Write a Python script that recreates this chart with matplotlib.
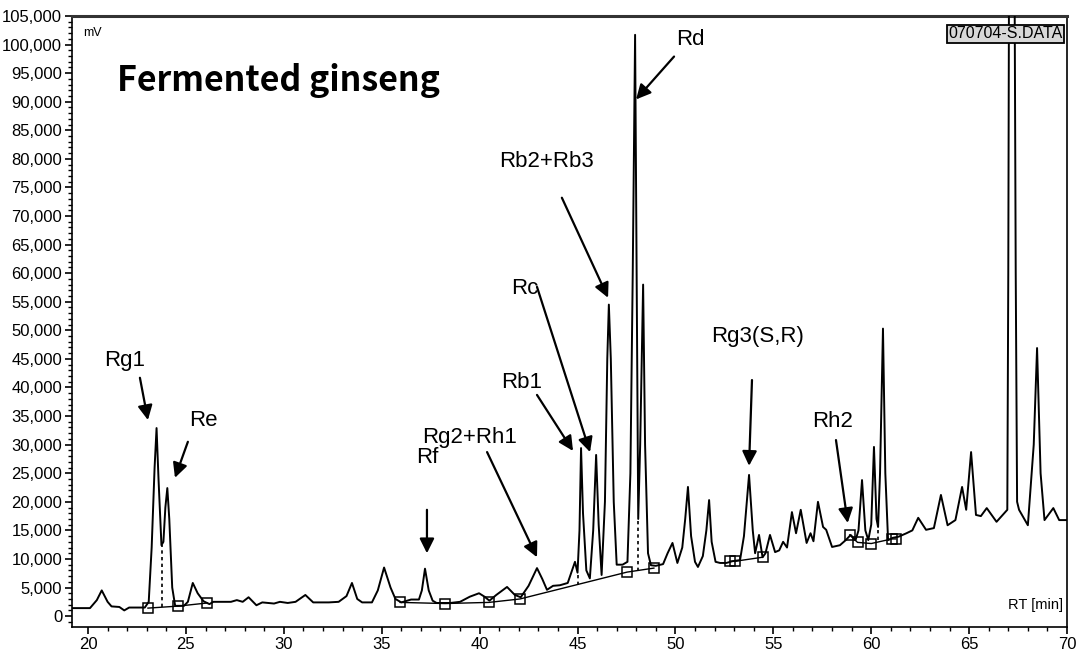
import matplotlib
matplotlib.use("Agg")
import matplotlib.pyplot as plt
from matplotlib.ticker import MultipleLocator, FuncFormatter

# chromatogram trace: retention time (min), signal (mV)
rt = [19.2, 20.1, 20.45, 20.7, 21.0, 21.2, 21.6, 21.85, 22.1, 22.9,
      23.1, 23.25, 23.4, 23.5, 23.6, 23.75, 23.85, 23.95, 24.05, 24.15,
      24.3, 24.45, 24.9, 25.1, 25.35, 25.6, 25.9, 26.2, 26.4, 27.3,
      27.6, 27.9, 28.2, 28.6, 28.9, 29.5, 29.8, 30.2, 30.6, 31.1,
      31.5, 32.3, 32.8, 33.2, 33.48, 33.75, 34.0, 34.5, 34.8, 35.12,
      35.45, 35.7, 36.0, 36.5, 36.9, 37.05, 37.21, 37.4, 37.6, 37.8,
      38.5, 39.0, 39.5, 39.97, 40.25, 40.5, 40.85, 41.4, 41.8, 42.1,
      42.5, 42.93, 43.2, 43.44, 43.75, 44.1, 44.5, 44.87, 45.0, 45.1,
      45.18, 45.28, 45.45, 45.63, 45.8, 45.95, 46.08, 46.23, 46.4, 46.52,
      46.6, 46.7, 46.85, 47.0, 47.3, 47.55, 47.7, 47.82, 47.94, 48.02,
      48.1, 48.2, 48.35, 48.45, 48.6, 48.75, 49.0, 49.37, 49.6, 49.85,
      50.1, 50.35, 50.5, 50.64, 50.8, 51.0, 51.15, 51.4, 51.58, 51.72,
      51.85, 52.05, 52.28, 52.6, 52.9, 53.3, 53.5, 53.76, 53.95, 54.07,
      54.27, 54.45, 54.6, 54.83, 55.09, 55.3, 55.5, 55.7, 55.95, 56.16,
      56.4, 56.7, 56.9, 57.05, 57.28, 57.54, 57.7, 58.0, 58.4, 58.7,
      58.95, 59.2, 59.35, 59.53, 59.7, 59.85, 60.0, 60.14, 60.27, 60.35,
      60.45, 60.6, 60.72, 60.86, 61.1, 61.4, 61.8, 62.1, 62.4, 62.8,
      63.2, 63.56, 63.9, 64.3, 64.64, 64.85, 65.1, 65.35, 65.6, 65.9,
      66.4, 66.95, 67.0, 67.05, 67.3, 67.38, 67.45, 67.55, 68.0, 68.3,
      68.47, 68.65, 68.85, 69.3, 69.6, 70.0]
mv = [1400, 1400, 2800, 4500, 2500, 1700, 1600, 1000, 1500, 1500,
      2500, 12000, 26000, 32900, 24000, 12400, 13000, 19000, 22400, 17000,
      5000, 1800, 1800, 2500, 5800, 4000, 2600, 2100, 2500, 2500,
      2800, 2500, 3300, 1900, 2400, 2200, 2500, 2300, 2500, 3700,
      2400, 2400, 2500, 3500, 5800, 3000, 2400, 2400, 4500, 8500,
      5000, 3000, 2400, 2900, 2900, 4500, 8300, 4500, 2700, 2300,
      2300, 2500, 3400, 4000, 3400, 2700, 3700, 5100, 3700, 3300,
      5300, 8400, 6500, 4600, 5300, 5400, 5800, 9500, 7600, 15000,
      29400, 18000, 8000, 6600, 15000, 28200, 16000, 7200, 20000, 45000,
      54500, 45000, 20000, 9000, 9000, 9500, 25000, 60000, 101700, 60000,
      17000, 30000, 58000, 30000, 11000, 8900, 8800, 9100, 11000, 12800,
      9300, 12000, 17000, 22600, 14000, 9500, 8600, 10500, 15000, 20300,
      13000, 9500, 9300, 9300, 9600, 9800, 14000, 24700, 15000, 11000,
      14200, 10300, 11000, 14200, 11200, 11500, 13000, 12000, 18200, 14500,
      18600, 12800, 14500, 13100, 20000, 15600, 15100, 12100, 12400, 13300,
      14200, 13300, 15000, 23800, 15000, 13300, 16000, 29600, 17000, 15600,
      25000, 50300, 25000, 13300, 13700, 13900, 14500, 15000, 17200, 15100,
      15400, 21200, 15900, 16800, 22600, 18600, 28700, 17700, 17500, 18900,
      16500, 18600, 60000, 130000, 130000, 60000, 20000, 18600, 15900, 30000,
      46900, 25000, 16800, 18900, 16800, 16800]

# integration baseline markers, grouped into connected segments
base_x = [[23.06, 24.6, 26.1],
          [35.94, 38.23, 40.48, 42.06, 47.53, 48.9],
          [52.8, 53.05, 54.45],
          [58.9, 59.3, 60.0, 61.05, 61.25]]
base_y = [[1400, 1750, 2300],
          [2400, 2200, 2400, 3000, 7700, 8400],
          [9600, 9600, 10300],
          [14200, 12900, 12700, 13500, 13500]]

# drop lines between unresolved peaks: rt, top, bottom
drop_rt = [23.78, 45.0, 48.1, 60.35]
drop_top = [12400, 7600, 17000, 15600]
drop_bot = [1600, 5500, 7900, 13400]

# peak labels: text, label position, arrow tail, arrow head
peak_names = ["Rg1", "Re", "Rf", "Rg2+Rh1", "Rb1", "Rc", "Rb2+Rb3", "Rd", "Rg3(S,R)", "Rh2"]
label_xy = [(21.89, 44800), (25.87, 34300), (37.31, 27700), (39.5, 31300), (42.17, 40800),
            (42.32, 57400), (43.44, 79500), (50.74, 100900), (54.17, 48900), (58.05, 34000)]
tail_xy = [(22.65, 41700), (25.1, 30500), (37.31, 18600), (40.38, 28700), (42.93, 38700),
           (42.93, 57600), (44.2, 73200), (49.93, 97900), (53.91, 41300), (58.2, 30800)]
head_xy = [(23.06, 34300), (24.44, 24200), (37.31, 11000), (42.93, 10300), (44.77, 28900),
           (45.64, 28700), (46.56, 55700), (47.99, 90400), (53.76, 26300), (58.8, 16300)]

plt.rcParams['font.family'] = ['Liberation Sans', 'DejaVu Sans']

fig = plt.figure(figsize=(10.79, 6.57), dpi=100)
ax = fig.add_axes([0.0667, 0.0457, 0.9222, 0.930])

ax.plot(rt, mv, color="black", linewidth=1.4, zorder=3)

for bx, by in zip(base_x, base_y):
    ax.plot(bx, by, color="black", linewidth=1.0, marker="s", markersize=7,
            markerfacecolor="none", markeredgecolor="black", markeredgewidth=1.1, zorder=4)

ax.vlines(drop_rt, drop_bot, drop_top, colors="black", linestyles=(0, (2, 2)), linewidth=1.2)

for name, lxy, t, h in zip(peak_names, label_xy, tail_xy, head_xy):
    ax.text(lxy[0], lxy[1], name, fontsize=16, ha="center", va="center")
    ax.annotate("", xy=h, xytext=t,
                arrowprops=dict(arrowstyle="-|>", color="black", lw=1.6,
                                mutation_scale=22, shrinkA=0, shrinkB=0))

ax.set_xlim(19.18, 70)
ax.set_ylim(-1900, 105000)
ax.xaxis.set_major_locator(MultipleLocator(5))
ax.xaxis.set_minor_locator(MultipleLocator(1))
ax.yaxis.set_major_locator(MultipleLocator(5000))
ax.yaxis.set_minor_locator(MultipleLocator(1000))
ax.yaxis.set_major_formatter(FuncFormatter(lambda v, p: f"{int(v):,}"))
ax.tick_params(which="major", length=5, width=1.2, labelsize=12, pad=2)
ax.tick_params(which="minor", length=3, width=1.0)

for s in ["left", "bottom", "right"]:
    ax.spines[s].set_linewidth(1.2)
ax.spines["top"].set_linewidth(2.2)
ax.spines["top"].set_color("#333333")

ax.text(0.011, 0.972, "mV", transform=ax.transAxes, fontsize=9, va="center", ha="left")
ax.text(0.045, 0.895, "Fermented ginseng", transform=ax.transAxes, fontsize=24.5,
        fontweight="bold", family=["Noto Sans CJK KR", "DejaVu Sans"], va="center", ha="left")
ax.text(0.938, 0.9705, "070704-S.DATA", transform=ax.transAxes, fontsize=11.5,
        ha="center", va="center", family=["Liberation Sans Narrow", "Liberation Sans"],
        bbox=dict(boxstyle="square,pad=0.1", facecolor="#d8d8d8", edgecolor="black", linewidth=1.3))
ax.text(0.996, 0.036, "RT [min]", transform=ax.transAxes, fontsize=10.5, ha="right", va="center")

fig.savefig("out.png", dpi=100)
